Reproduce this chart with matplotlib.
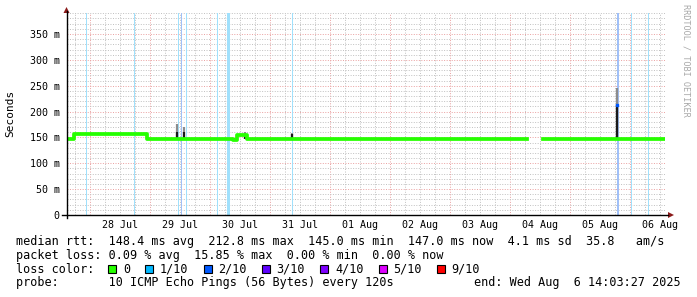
import numpy as np
import pandas as pd
import matplotlib
matplotlib.use("Agg")
import matplotlib.pyplot as plt
import matplotlib.dates as mdates
from matplotlib.ticker import MultipleLocator, FuncFormatter, NullFormatter
from matplotlib.patches import Rectangle, Polygon
from matplotlib.lines import Line2D

plt.rcParams['font.family'] = ['DejaVu Sans Mono']

# time window of the graph
t_start = pd.Timestamp("2025-07-27 14:30:00")
t_end = pd.Timestamp("2025-08-06 14:03:27")

# median rtt (seconds), step changes; NaN = no data
median_times = ["2025-07-27 14:30", "2025-07-27 17:40", "2025-07-28 22:50",
                "2025-07-30 09:00", "2025-07-30 10:40", "2025-07-30 14:50",
                "2025-08-04 06:50", "2025-08-04 13:10", "2025-08-06 14:03"]
median_vals = [0.146, 0.156, 0.147, 0.145, 0.154, 0.147, np.nan, 0.147, 0.147]

# smoke spikes: time, top of dark part, top of grey part (seconds)
smoke_times = ["2025-07-29 10:40", "2025-07-29 13:40", "2025-07-30 14:00",
               "2025-07-31 08:36", "2025-08-05 18:48"]
smoke_dark = [0.160, 0.160, 0.150, 0.156, 0.2128]
smoke_grey = [0.176, 0.170, 0.161, 0.158, 0.246]

# packet loss events: time, loss level (tenths), width in px
loss_times = ["2025-07-27 22:17", "2025-07-28 17:20", "2025-07-29 11:05",
              "2025-07-29 12:07", "2025-07-29 14:07", "2025-07-30 02:41",
              "2025-07-30 06:55", "2025-07-31 08:48", "2025-08-05 19:00",
              "2025-08-06 00:07", "2025-08-06 07:05", "2025-08-06 13:43"]
loss_level = [1, 1, 1, 2, 1, 1, 1, 1, 2, 1, 1, 1]
loss_width = [1, 1, 1, 1, 1, 1, 3, 1, 2, 1, 1, 1]

loss_labels = ["0", "1/10", "2/10", "3/10", "4/10", "5/10", "9/10"]
loss_colors = ["#26ff00", "#00b8ff", "#0059ff", "#5e00ff", "#7e00ff", "#dd00ff", "#ff0000"]
loss_light = {1: "#a0e0fc", 2: "#a0c0f8"}

legend_rows = [
    "median rtt:  148.4 ms avg  212.8 ms max  145.0 ms min  147.0 ms now  4.1 ms sd  35.8   am/s",
    "packet loss: 0.09 % avg  15.85 % max  0.00 % min  0.00 % now",
    "loss color:",
    "probe:       10 ICMP Echo Pings (56 Bytes) every 120s",
]
end_text = "end: Wed Aug  6 14:03:27 2025"

W, H = 697, 297
fig = plt.figure(figsize=(W / 100, H / 100), dpi=100)


def fx(px):
    return px / W


def fy(py):
    return 1 - py / H


hours = (t_end - t_start).total_seconds() / 3600
ax = fig.add_axes([fx(66.5), fy(215), hours * 2.5 / W, 201.7 / H])

# loss bars in the background
for t, lv, w in zip(loss_times, loss_level, loss_width):
    ax.axvline(pd.Timestamp(t), color=loss_light[lv], lw=w * 0.72, zorder=1)

# smoke
st = pd.to_datetime(smoke_times)
ax.vlines(st, 0.147, smoke_grey, color="#8c8c8c", lw=1.6, zorder=2)
ax.vlines(st, 0.147, smoke_dark, color="#1a1a1a", lw=1.6, zorder=3)

# median line
ax.step(pd.to_datetime(median_times), median_vals, where="post",
        color=loss_colors[0], lw=2.7, zorder=4)
ax.plot([st[-1]], [smoke_dark[-1]], marker="s", ms=1.5, color="#0059ff", zorder=5)

ax.set_xlim(t_start, t_end)
ax.set_ylim(0, 0.390)

# grid
ax.xaxis.set_major_locator(mdates.DayLocator())
ax.xaxis.set_minor_locator(mdates.HourLocator(byhour=range(0, 24, 6)))
ax.xaxis.set_major_formatter(NullFormatter())


def xfmt(x, pos):
    d = mdates.num2date(x)
    return d.strftime("%d %b") if d.hour == 12 else ""


ax.xaxis.set_minor_formatter(FuncFormatter(xfmt))
ax.yaxis.set_major_locator(MultipleLocator(0.05))
ax.yaxis.set_minor_locator(MultipleLocator(0.01))
ax.yaxis.set_major_formatter(FuncFormatter(lambda v, p: "0" if v == 0 else "%d m" % round(v * 1000)))

ax.grid(which="minor", color="#c0c0c0", ls=(0, (1, 1.6)), lw=0.7, zorder=0)
ax.grid(which="major", color="#eaa0a0", ls=(0, (1, 1.6)), lw=0.7, zorder=0)
ax.set_axisbelow(True)

ax.tick_params(axis="x", which="both", length=0, pad=3.5, labelsize=7.2)
ax.tick_params(axis="y", which="both", length=0, pad=5, labelsize=7.2)
for s in ax.spines.values():
    s.set_visible(False)

# axis lines and arrows
fig.add_artist(Line2D([fx(66.5), fx(66.5)], [fy(218), fy(11)], color="black", lw=1.0))
fig.add_artist(Line2D([fx(62), fx(668)], [fy(215), fy(215)], color="black", lw=1.0))
fig.add_artist(Polygon([[fx(63.5), fy(13)], [fx(69.5), fy(13)], [fx(66.5), fy(7)]],
                       closed=True, color="#8b1a1a", lw=0))
fig.add_artist(Polygon([[fx(668), fy(212)], [fx(668), fy(218)], [fx(674), fy(215)]],
                       closed=True, color="#8b1a1a", lw=0))

fig.text(fx(10), fy(113), "Seconds", rotation=90, ha="center", va="center", fontsize=8)
fig.text(fx(686), fy(4), "RRDTOOL / TOBI OETIKER", rotation=270, ha="center", va="top",
         fontsize=6.1, color="#a8a8a8")

# legend
baselines = [245, 258.8, 272.6, 286.4]
for row, yb in zip(legend_rows, baselines):
    fig.text(fx(16), fy(yb), row, ha="left", va="baseline", fontsize=8.5)
fig.text(fx(681), fy(baselines[3]), end_text, ha="right", va="baseline", fontsize=8.5)

cw = 7.085
xs = 108.3
for lab, col in zip(loss_labels, loss_colors):
    fig.add_artist(Rectangle((fx(xs), fy(272.5)), 8 / W, 8 / H, facecolor=col,
                             edgecolor="black", lw=0.8))
    fig.text(fx(xs + 14.5), fy(baselines[2]), lab, ha="left", va="baseline", fontsize=8.5)
    xs += 14.5 + len(lab) * cw + 15.5

fig.savefig("out.png", dpi=100, facecolor="white")
